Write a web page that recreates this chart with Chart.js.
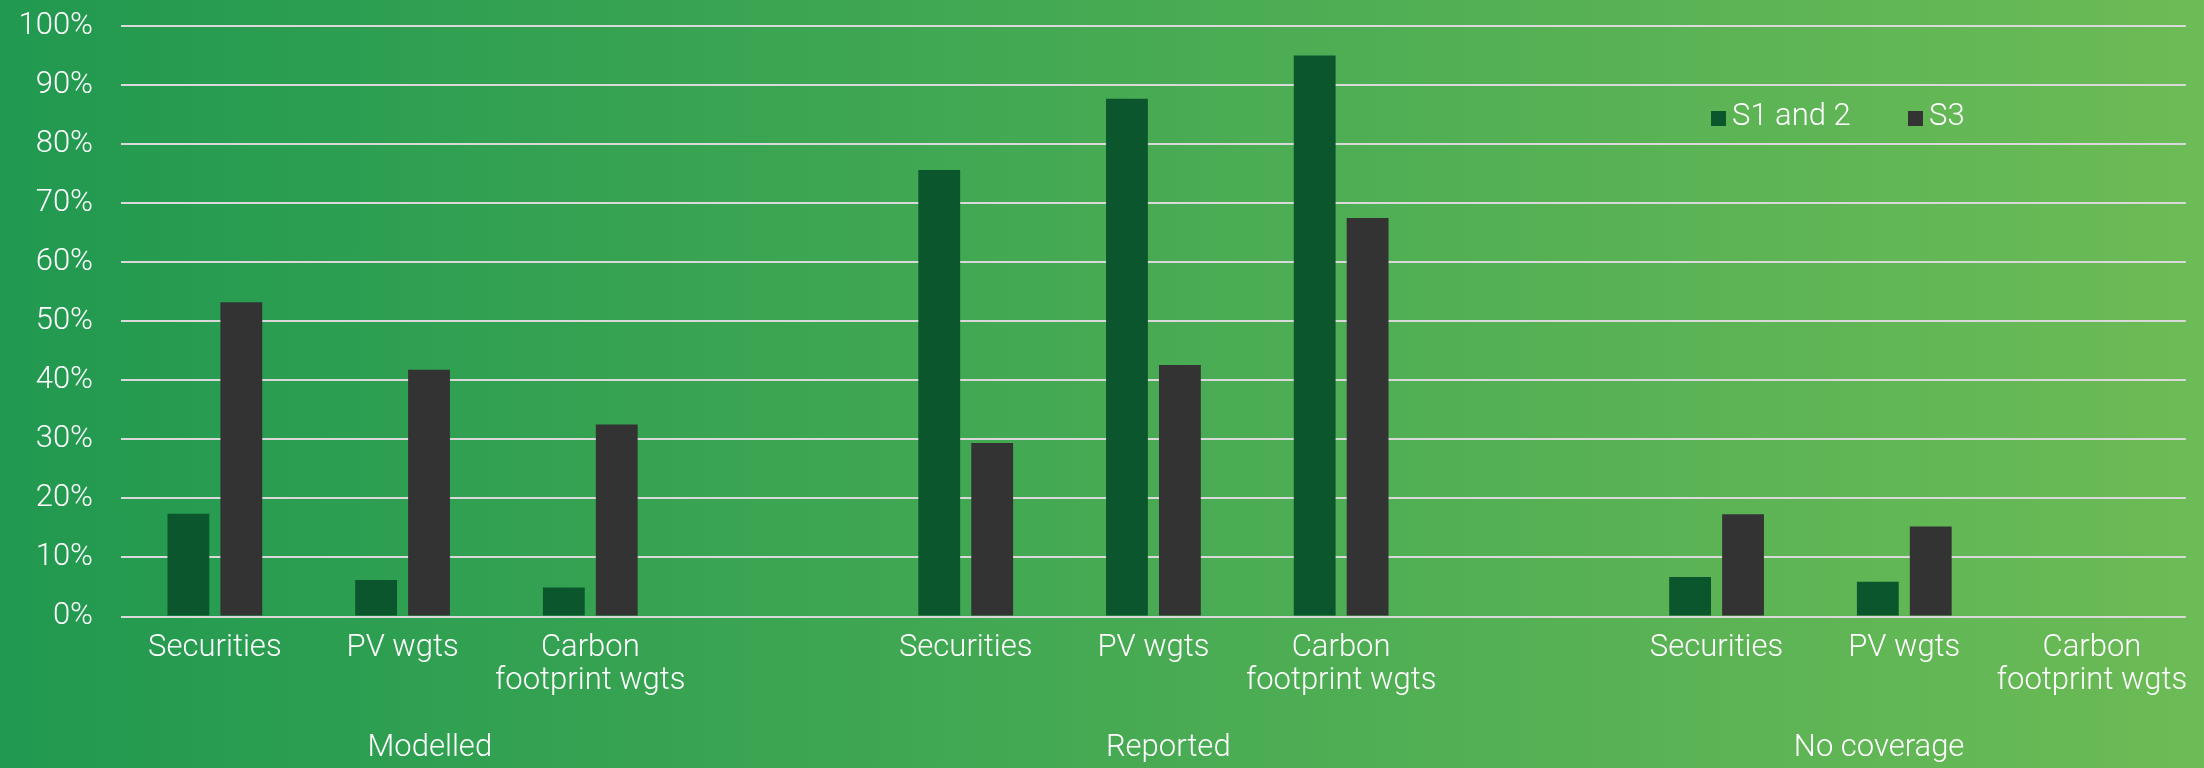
<!DOCTYPE html>
<html>
<head>
<meta charset="utf-8">
<script src="https://cdn.jsdelivr.net/npm/chart.js@4"></script>
<style>
  html, body { margin: 0; padding: 0; }
  body {
    width: 2204px; height: 768px; overflow: hidden;
    background: linear-gradient(90deg, #219950 0%, #46aa53 50%, #6cbb56 100%);
  }
  #wrap { position: relative; width: 2204px; height: 768px; }
</style>
</head>
<body>
<div id="wrap"><canvas id="c" width="2204" height="768"></canvas></div>
<script>
// ---- data ----
const groups = ['Modelled', 'Reported', 'No coverage'];
const measures = ['Securities', 'PV wgts', ['Carbon', 'footprint wgts']];
const seriesNames = ['S1 and 2', 'S3'];
// one value per column; null marks the empty spacer column between groups
const s1and2 = [17.4, 6.2, 4.9, null, 75.6, 87.7, 95.0, null, 6.7, 5.9, 0];
const s3     = [53.2, 41.8, 32.5, null, 29.4, 42.6, 67.5, null, 17.3, 15.25, 0];
const yTicks = [0, 10, 20, 30, 40, 50, 60, 70, 80, 90, 100];

// ---- build labels ----
const labels = [];
groups.forEach((g, gi) => {
  measures.forEach(m => labels.push(m));
  if (gi < groups.length - 1) labels.push('');
});

// ---- layout / style ----
const FONT = 'Roboto';
const WHITE = '#ffffff';
const GRID = '#d9d9d9';
const COLORS = ['#0b562c', '#333333'];
const groupLabelPos = [1.145, 5.079, 8.866]; // fractional column index of each group caption

const groupLabelsPlugin = {
  id: 'groupLabels',
  afterDraw(chart) {
    const ctx = chart.ctx;
    const xs = chart.scales.x;
    ctx.save();
    ctx.fillStyle = WHITE;
    ctx.font = '300 31px ' + FONT;
    ctx.textAlign = 'center';
    ctx.textBaseline = 'alphabetic';
    groups.forEach((g, i) => {
      ctx.fillText(g, xs.getPixelForValue(groupLabelPos[i]), 756);
    });
    ctx.restore();
  }
};

const legendPlugin = {
  id: 'customLegend',
  afterDraw(chart) {
    const ctx = chart.ctx;
    const positions = [1711, 1908];
    ctx.save();
    ctx.font = '300 31px ' + FONT;
    ctx.textBaseline = 'alphabetic';
    ctx.textAlign = 'left';
    chart.data.datasets.forEach((ds, i) => {
      const x = positions[i];
      ctx.fillStyle = ds.backgroundColor;
      ctx.fillRect(x, 111, 15, 15);
      ctx.fillStyle = WHITE;
      ctx.fillText(ds.label, x + 21, 125);
    });
    ctx.restore();
  }
};

function build() {
  new Chart(document.getElementById('c'), {
    type: 'bar',
    data: {
      labels: labels,
      datasets: [
        { label: seriesNames[0], data: s1and2, backgroundColor: COLORS[0], borderWidth: 0 },
        { label: seriesNames[1], data: s3, backgroundColor: COLORS[1], borderWidth: 0 }
      ]
    },
    options: {
      responsive: false,
      animation: false,
      devicePixelRatio: 1,
      categoryPercentage: 0.564,
      barPercentage: 0.79,
      layout: { padding: { top: 26, right: 17, bottom: 0, left: 0 } },
      plugins: {
        legend: { display: false },
        tooltip: { enabled: false },
        title: { display: false }
      },
      scales: {
        x: {
          grid: { display: false, drawTicks: false },
          border: { display: false },
          ticks: {
            color: WHITE,
            font: { family: FONT, size: 31, weight: '300', lineHeight: 1.04 },
            padding: 16,
            maxRotation: 0,
            minRotation: 0,
            autoSkip: false
          },
          afterFit(scale) { scale.height = 151.5; }
        },
        y: {
          min: 0,
          max: 100,
          afterBuildTicks(scale) { scale.ticks = yTicks.map(v => ({ value: v })); },
          grid: { color: GRID, lineWidth: 2, drawTicks: false },
          border: { display: false },
          ticks: {
            color: WHITE,
            font: { family: FONT, size: 31, weight: '300' },
            padding: 28,
            callback: v => v + '%'
          },
          afterFit(scale) {
            scale.width = 121;
            scale.paddingTop = 0;
            scale.paddingBottom = 0;
          }
        }
      }
    },
    plugins: [groupLabelsPlugin, legendPlugin]
  });
}

if (document.fonts && document.fonts.load) {
  Promise.all([
    document.fonts.load('300 31px Roboto'),
    document.fonts.load('400 31px Roboto')
  ]).then(build, build);
} else {
  build();
}
</script>
</body>
</html>
